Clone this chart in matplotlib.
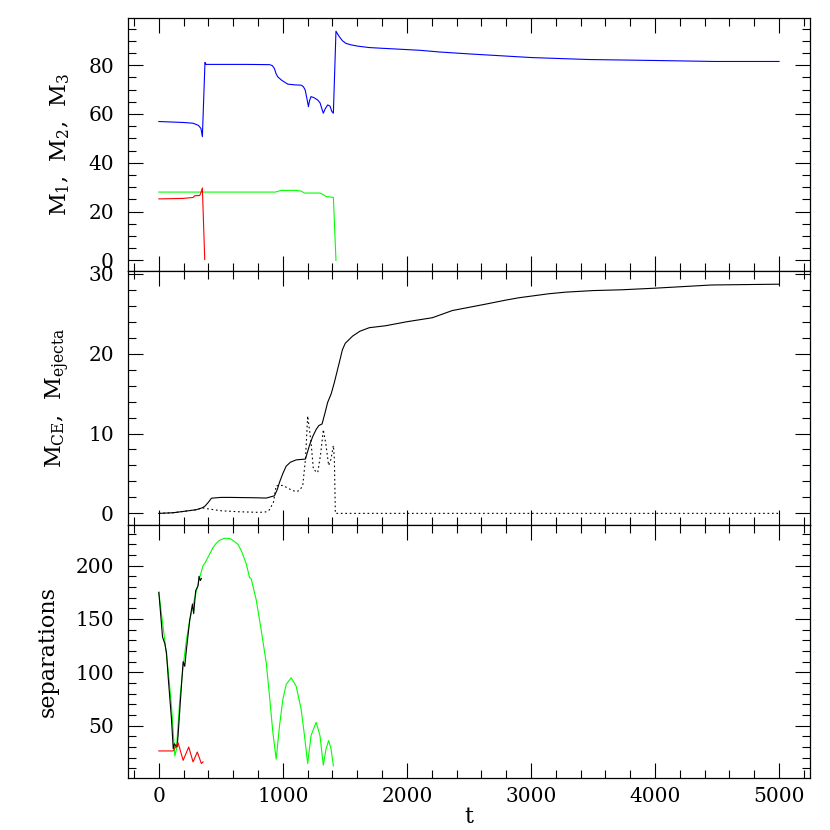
import numpy as np
import matplotlib
matplotlib.use('Agg')
import matplotlib.pyplot as plt
from matplotlib.ticker import MultipleLocator

plt.rcParams['font.family'] = 'DejaVu Serif'
plt.rcParams['mathtext.fontset'] = 'dejavuserif'
plt.rcParams['font.size'] = 14.5
plt.rcParams['axes.linewidth'] = 0.9

# --- top panel: masses of the three stars
t_m3 = [0, 100, 200, 276, 320, 340, 351, 372, 380, 500, 700, 892, 915, 932, 945, 959, 990,
        1040, 1100, 1147, 1165, 1180, 1195, 1206, 1215, 1227, 1250, 1281, 1300, 1315, 1326,
        1340, 1361, 1380, 1395, 1407, 1428, 1450, 1480, 1509, 1550, 1600, 1696, 1800, 2098,
        2259, 2500, 3004, 3465, 4000, 4483, 5000]
m3 = [56.9, 56.7, 56.5, 56.2, 55.3, 54.0, 50.7, 81.1, 80.3, 80.3, 80.3, 80.2, 79.8, 78.6,
      76.5, 75.2, 73.8, 72.2, 71.9, 71.8, 71.2, 69.8, 66.0, 63.0, 65.5, 67.1, 66.7, 65.7,
      64.5, 62.0, 60.3, 62.0, 63.7, 63.2, 61.0, 60.3, 93.9, 92.0, 90.0, 88.9, 88.3, 87.8,
      87.2, 86.9, 86.1, 85.4, 84.6, 83.1, 82.3, 81.9, 81.5, 81.5]
t_m1 = [0, 196, 276, 290, 330, 343, 351, 370]
m1 = [25.2, 25.4, 25.8, 26.5, 26.6, 28.3, 29.7, 0.4]
t_m2 = [0, 940, 980, 1000, 1100, 1147, 1174, 1300, 1330, 1348, 1407, 1428]
m2 = [28.0, 28.0, 28.6, 28.7, 28.7, 28.4, 27.6, 27.6, 26.8, 26.2, 25.8, 0.0]

# --- middle panel: common envelope mass and ejecta
t_ce = [0, 115, 200, 303, 350, 370, 400, 424, 500, 571, 758, 866, 932, 955, 973, 1000, 1026,
        1060, 1107, 1182, 1195, 1214, 1240, 1268, 1290, 1316, 1340, 1361, 1390, 1415, 1455,
        1480, 1503, 1562, 1620, 1696, 1830, 2000, 2205, 2366, 2634, 2795, 2902, 3143, 3277,
        3500, 3733, 4000, 4456, 5000]
m_ce = [0.0, 0.08, 0.25, 0.46, 0.7, 0.88, 1.4, 1.9, 2.0, 2.0, 1.96, 1.92, 2.2, 3.0, 3.9, 5.0,
        5.9, 6.4, 6.7, 6.8, 7.5, 8.5, 9.6, 10.5, 11.0, 11.2, 12.6, 13.9, 15.0, 16.4, 18.9,
        20.5, 21.3, 22.2, 22.8, 23.25, 23.5, 24.0, 24.5, 25.4, 26.2, 26.7, 27.0, 27.5, 27.7,
        27.9, 28.0, 28.2, 28.6, 28.7]
t_ej = [0, 115, 200, 303, 350, 383, 500, 650, 812, 870, 892, 924, 946, 1000, 1060, 1107, 1135,
        1160, 1182, 1200, 1227, 1246, 1281, 1305, 1326, 1348, 1369, 1388, 1407, 1415, 1423, 5000]
m_ej = [0.0, 0.08, 0.25, 0.46, 0.7, 0.6, 0.33, 0.2, 0.125, 0.2, 0.46, 1.4, 3.46, 3.5, 3.0, 2.7,
        2.9, 3.46, 6.8, 12.2, 8.9, 5.5, 5.1, 7.5, 10.5, 8.5, 6.0, 6.8, 8.5, 6.8, 0.0, 0.0]

# --- bottom panel: separations
t_s_green = [0, 21, 48, 75, 102, 129, 142, 169, 196, 222, 249, 290, 330, 356, 370, 437, 463,
             490, 531, 571, 584, 638, 665, 705, 731, 745, 785, 825, 866, 892, 919, 946, 973,
             1000, 1027, 1067, 1107, 1147, 1174, 1200, 1227, 1268, 1299, 1326, 1348, 1369,
             1388, 1407]
s_green = [175, 155, 130, 102.5, 68.5, 21.6, 28, 74.7, 105.6, 130, 148.8, 170, 189, 200, 202,
           217, 221, 223.8, 225.7, 225.3, 224.8, 220, 214, 201.6, 189, 187.6, 168, 139.7, 108.8,
           77.8, 43.9, 18.5, 50, 74.8, 88.7, 94.9, 87, 65.5, 40.7, 14.5, 40.7, 53.1, 40.7, 13,
           28.4, 36, 28.4, 12.3]
t_s_black = [0, 30, 48, 62, 75, 102, 116, 126, 137, 147, 155, 182, 196, 209, 222, 249, 271,
             281, 297, 316, 324, 335, 343]
s_black = [175, 133, 127, 118, 96, 56, 28.4, 33, 31, 30, 40.7, 87, 110, 105.6, 121, 148.8, 164,
           155, 176.5, 181, 190, 186, 188]
t_s_red = [0, 116, 155, 196, 241, 276, 310, 343, 356]
s_red = [26.3, 26.3, 34, 17.5, 30, 16, 25.3, 14.5, 16]

fig, axes = plt.subplots(3, 1, sharex=True, figsize=(8.3, 8.3), dpi=100)
plt.subplots_adjust(left=0.154, right=0.976, top=0.978, bottom=0.063, hspace=0)
ax1, ax2, ax3 = axes

lw = 0.8
ax1.plot(t_m3, m3, color='#0000ff', lw=lw)
ax1.plot(t_m2, m2, color='#00ff00', lw=lw)
ax1.plot(t_m1, m1, color='#ff0000', lw=lw)
ax1.set_ylim(-4.5, 99.2)
ax1.yaxis.set_major_locator(MultipleLocator(20))
ax1.yaxis.set_minor_locator(MultipleLocator(5))
ax1.set_ylabel(r'M$_1$,  M$_2$,  M$_3$', fontsize=16, labelpad=12)

ax2.plot(t_ce, m_ce, color='black', lw=lw)
ax2.plot(t_ej, m_ej, color='black', lw=lw, linestyle=(0, (1.5, 2.5)))
ax2.set_ylim(-1.4, 30.3)
ax2.yaxis.set_major_locator(MultipleLocator(10))
ax2.yaxis.set_minor_locator(MultipleLocator(2))
ax2.set_ylabel(r'M$_{\rm CE}$,  M$_{\rm ejecta}$', fontsize=16, labelpad=12)

ax3.plot(t_s_green, s_green, color='#00ff00', lw=lw)
ax3.plot(t_s_black, s_black, color='black', lw=lw)
ax3.plot(t_s_red, s_red, color='#ff0000', lw=lw)
ax3.set_ylim(1.2, 238.5)
ax3.yaxis.set_major_locator(MultipleLocator(50))
ax3.yaxis.set_minor_locator(MultipleLocator(10))
ax3.set_ylabel('separations', fontsize=16, labelpad=12)
ax3.set_xlabel('t', fontsize=16, labelpad=0)

ax3.set_xlim(-250, 5250)
ax3.xaxis.set_major_locator(MultipleLocator(1000))
ax3.xaxis.set_minor_locator(MultipleLocator(200))

for ax in axes:
    ax.tick_params(which='both', direction='in', top=True, right=True, width=0.8)
    ax.tick_params(which='major', length=11)
    ax.tick_params(which='minor', length=5.5)
    ax.tick_params(axis='y', which='major', pad=10)
    ax.tick_params(axis='x', which='major', pad=7)

plt.savefig('out.png', dpi=100)
